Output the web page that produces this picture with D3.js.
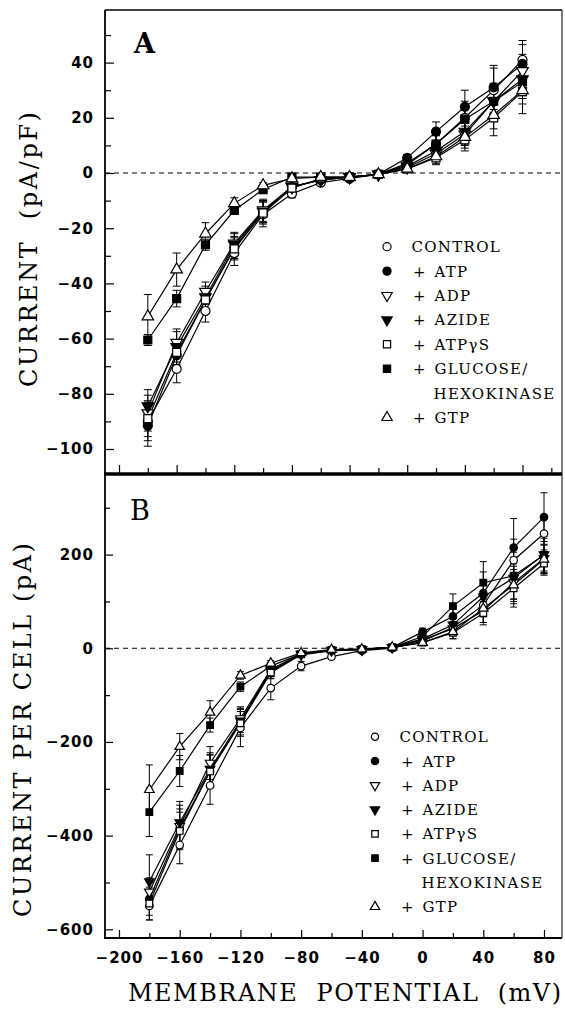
<!DOCTYPE html>
<html>
<head>
<meta charset="utf-8">
<script src="https://cdn.jsdelivr.net/npm/d3@7"></script>
<style>
  body { margin: 0; background: #fff; }
  svg { display: block; }
  .axis text { font-family: "DejaVu Sans", sans-serif; font-weight: bold; font-size: 15px; letter-spacing: 1px; fill: #000; }
  .axis line { stroke: #000; stroke-width: 1.2; }
  .title { font-family: "DejaVu Serif", serif; font-size: 24px; fill: #000; white-space: pre; }
  .legend text { font-family: "DejaVu Serif", serif; font-size: 15px; letter-spacing: 1.3px; fill: #000; }
</style>
</head>
<body>
<svg id="chart" width="565" height="1009"></svg>
<script>
// membrane potential (mV)
const voltages = [-180, -160, -140, -120, -100, -80, -60, -40, -20, 0, 20, 40, 60, 80];

// Panel A: current density (pA/pF)
const controlA = [-90, -71, -50, -29, -15, -7.5, -3.5, -2, -0.5, 3, 10.5, 20, 30, 41];
const atpA     = [-91.5, -66, -46, -27, -14, -5, -2.5, -1.5, -0.5, 5.5, 15, 24, 31, 39.5];
const adpA     = [-87, -61.5, -43, -25.5, -13.5, -5, -2.5, -1.5, -0.5, 2, 7, 14, 26, 37];
const azideA   = [-84.5, -63, -45, -26, -14, -5, -2.5, -1.5, -0.5, 2.5, 8, 15, 26, 34];
const atpgsA   = [-89, -65, -46, -27.5, -14.5, -5.5, -2, -1.5, -0.5, 1.5, 5.5, 12, 20, 29.5];
const glucoseA = [-60.5, -45.5, -26, -13.5, -6, -1.5, -1.5, -1.5, -0.5, 3.5, 10.5, 19.5, 26, 33];
const gtpA     = [-52, -35, -22, -11, -4.5, -2, -1.5, -1.5, -0.5, 1.5, 6, 13, 21, 30];

const semControlA = [7, 5, 4, 4.5, 4.5, 1.5, 0.8, 0.5, 0.4, 1, 3.5, 6, 8, 7];
const semAtpA     = [7.5, 5, 4, 4, 4, 1.2, 0.7, 0.5, 0.4, 1.2, 3.5, 6, 8, 7];
const semAdpA     = [6.5, 5, 3.5, 4, 4, 1.2, 0.7, 0.5, 0.4, 1, 2.5, 4, 6, 6];
const semAzideA   = [6, 5.5, 4, 4, 4, 1.2, 0.7, 0.5, 0.4, 1, 2.5, 4.5, 6.5, 6];
const semAtpgsA   = [6.5, 4.5, 3.5, 4, 4, 1.2, 0.7, 0.5, 0.4, 1, 2.5, 4, 6.5, 8];
const semGlucoseA = [2, 3, 2, 1.5, 1, 0.8, 0.5, 0.5, 0.4, 1, 3, 5, 6, 6];
const semGtpA     = [8, 6, 4, 2, 1, 0.8, 0.5, 0.5, 0.4, 1, 2.5, 4, 5, 5];

// Panel B: current per cell (pA)
const controlB = [-550, -420, -293, -170, -85, -38, -18, -5, 0, 15, 45, 92, 188, 245];
const atpB     = [-535, -385, -262, -158, -50, -12, -4, -2, 2, 35, 68, 118, 215, 280];
const adpB     = [-520, -380, -245, -150, -45, -12, -4, -3, 2, 18, 42, 80, 140, 192];
const azideB   = [-498, -372, -258, -155, -48, -14, -5, -3, 2, 20, 50, 110, 150, 200];
const atpgsB   = [-545, -390, -263, -160, -52, -13, -5, -3, 2, 12, 33, 75, 128, 181];
const glucoseB = [-350, -262, -164, -82, -38, -12, -4, -2, 2, 25, 90, 140, 155, 199];
const gtpB     = [-302, -210, -137, -58, -32, -10, -3, -2, 2, 12, 35, 85, 135, 190];

const semControlB = [30, 40, 40, 40, 25, 10, 5, 3, 2, 6, 12, 25, 45, 35];
const semAtpB     = [35, 42, 35, 30, 15, 5, 3, 2, 2, 8, 20, 45, 62, 52];
const semAdpB     = [30, 45, 35, 25, 12, 5, 3, 2, 2, 5, 12, 25, 40, 30];
const semAzideB   = [57, 45, 35, 25, 12, 5, 3, 2, 2, 5, 15, 35, 45, 35];
const semAtpgsB   = [35, 40, 35, 25, 12, 5, 3, 2, 2, 5, 12, 25, 40, 25];
const semGlucoseB = [52, 33, 15, 10, 8, 4, 3, 2, 2, 6, 26, 45, 50, 40];
const semGtpB     = [53, 28, 25, 8, 6, 4, 3, 2, 2, 5, 15, 30, 40, 30];

const seriesNames = ["CONTROL", "ATP", "ADP", "AZIDE", "ATPγS", "GLUCOSE/", "GTP"];

// ticks
const xTicksMajor = [-200, -160, -120, -80, -40, 0, 40, 80];
const xTicksMinor = [-180, -140, -100, -60, -20, 20, 60, 100];
const yTicksA = [-100, -80, -60, -40, -20, 0, 20, 40];
const yMinorA = [-90, -70, -50, -30, -10, 10, 30, 50];
const yTicksB = [-600, -400, -200, 0, 200];
const yMinorB = [-500, -300, -100, 100, 300];

const markerShape = ["circle", "circle", "down", "down", "square", "square", "up"];
const markerFilled = [false, true, false, true, false, true, false];

const svg = d3.select("#chart");

function symbolPath(shape, size) {
  const type = shape === "circle" ? d3.symbolCircle
    : shape === "square" ? d3.symbolSquare : d3.symbolTriangle;
  return d3.symbol().type(type).size(size)();
}

function drawMarker(g, shape, filled, x, y, size) {
  g.append("path")
    .attr("d", symbolPath(shape, shape === "up" || shape === "down" ? size * 0.9 : size))
    .attr("transform", `translate(${x},${y})` + (shape === "down" ? " rotate(180)" : ""))
    .attr("fill", filled ? "#000" : "#fff")
    .attr("stroke", "#000")
    .attr("stroke-width", 1.2);
}

function drawPanel(p) {
  const g = svg.append("g");
  const { x, y } = p;

  // zero line
  g.append("line")
    .attr("x1", p.left).attr("x2", p.right)
    .attr("y1", y(0)).attr("y2", y(0))
    .attr("stroke", "#000").attr("stroke-width", 1)
    .attr("stroke-dasharray", "5,4");

  // lines
  const line = d3.line().x((d, i) => x(voltages[i])).y((d) => y(d));
  p.series.forEach((s) => {
    g.append("path").datum(s.values)
      .attr("d", line)
      .attr("fill", "none")
      .attr("stroke", "#000")
      .attr("stroke-width", 1.2);
  });

  // error bars
  p.series.forEach((s) => {
    s.values.forEach((v, i) => {
      const cx = x(voltages[i]);
      const top = y(v + s.sem[i]);
      const bot = y(v - s.sem[i]);
      if (bot - top < 3) return;
      g.append("line").attr("x1", cx).attr("x2", cx).attr("y1", top).attr("y2", bot)
        .attr("stroke", "#000").attr("stroke-width", 1);
      [top, bot].forEach((yy) => {
        g.append("line")
          .attr("x1", cx - p.cap).attr("x2", cx + p.cap)
          .attr("y1", yy).attr("y2", yy)
          .attr("stroke", "#000").attr("stroke-width", 1);
      });
    });
  });

  // markers
  p.series.forEach((s, k) => {
    s.values.forEach((v, i) => {
      drawMarker(g, markerShape[k], markerFilled[k], x(voltages[i]), y(v), p.markerSize);
    });
  });

  // axes
  const left = g.append("g").attr("class", "axis")
    .attr("transform", `translate(${p.left},0)`)
    .call(d3.axisLeft(y).tickValues(p.yTicks).tickSize(-p.tickMajor).tickSizeOuter(0).tickPadding(11));
  left.select(".domain").remove();
  const leftMinor = g.append("g").attr("class", "axis")
    .attr("transform", `translate(${p.left},0)`)
    .call(d3.axisLeft(y).tickValues(p.yMinor).tickSize(-p.tickMinor).tickSizeOuter(0).tickFormat(""));
  leftMinor.select(".domain").remove();

  const bottom = g.append("g").attr("class", "axis")
    .attr("transform", `translate(0,${p.bottom})`)
    .call(d3.axisBottom(x).tickValues(xTicksMajor).tickSize(-p.tickMajor).tickSizeOuter(0)
      .tickPadding(14).tickFormat(p.xLabels ? d3.format("") : ""));
  bottom.select(".domain").remove();
  const bottomMinor = g.append("g").attr("class", "axis")
    .attr("transform", `translate(0,${p.bottom})`)
    .call(d3.axisBottom(x).tickValues(xTicksMinor.filter((t) => x(t) < p.right))
      .tickSize(-p.tickMinor).tickSizeOuter(0).tickFormat(""));
  bottomMinor.select(".domain").remove();

  // frame
  g.append("line").attr("x1", p.left).attr("x2", p.right).attr("y1", p.top).attr("y2", p.top)
    .attr("stroke", "#000").attr("stroke-width", p.topWidth);
  g.append("line").attr("x1", p.right).attr("x2", p.right).attr("y1", p.top).attr("y2", p.bottom)
    .attr("stroke", "#000").attr("stroke-width", 1);
  g.append("line").attr("x1", p.left).attr("x2", p.left).attr("y1", p.top).attr("y2", p.bottom)
    .attr("stroke", "#000").attr("stroke-width", 1.8);
  g.append("line").attr("x1", p.left - 1).attr("x2", p.right).attr("y1", p.bottom).attr("y2", p.bottom)
    .attr("stroke", "#000").attr("stroke-width", p.bottomWidth);

  // legend
  const lg = g.append("g").attr("class", "legend");
  seriesNames.forEach((name, k) => {
    const row = k < 6 ? k : 7;
    const cy = p.legendY + row * p.legendStep;
    drawMarker(lg, markerShape[k], markerFilled[k], p.legendX, cy, p.legendSize);
    if (k === 0) {
      lg.append("text").attr("x", p.legendX + 24.5).attr("y", cy + 5.5).text(name);
    } else {
      lg.append("text").attr("x", p.legendX + 26).attr("y", cy + 5.5).text("+");
      lg.append("text").attr("x", p.legendX + 47.5).attr("y", cy + 5.5).text(name);
    }
  });
  lg.append("text").attr("x", p.legendX + 46.5)
    .attr("y", p.legendY + 6 * p.legendStep + 5.5).text("HEXOKINASE");

  // panel letter
  g.append("text").attr("x", p.letterX).attr("y", p.letterY)
    .attr("font-family", "DejaVu Serif, serif").attr("font-size", 27)
    .attr("font-weight", p.letterBold ? "bold" : "normal")
    .text(p.letter);
}

drawPanel({
  x: d3.scaleLinear().domain([-200, 80]).range([119, 522.5]),
  y: d3.scaleLinear().domain([-100, 40]).range([449, 62.6]),
  left: 105, right: 562, top: 10, bottom: 474,
  topWidth: 1.3, bottomWidth: 2.8,
  yTicks: yTicksA, yMinor: yMinorA,
  tickMajor: 9, tickMinor: 6, cap: 4,
  markerSize: 64, xLabels: false,
  series: [
    { values: controlA, sem: semControlA },
    { values: atpA, sem: semAtpA },
    { values: adpA, sem: semAdpA },
    { values: azideA, sem: semAzideA },
    { values: atpgsA, sem: semAtpgsA },
    { values: glucoseA, sem: semGlucoseA },
    { values: gtpA, sem: semGtpA },
  ],
  legendX: 387, legendY: 246.7, legendStep: 24.4, legendSize: 52,
  letter: "A", letterX: 134, letterY: 53, letterBold: true,
});

drawPanel({
  x: d3.scaleLinear().domain([-200, 80]).range([119, 544]),
  y: d3.scaleLinear().domain([-600, 200]).range([929.3, 554.6]),
  left: 105, right: 562, top: 474, bottom: 938,
  topWidth: 2.8, bottomWidth: 2,
  yTicks: yTicksB, yMinor: yMinorB,
  tickMajor: 8, tickMinor: 5, cap: 3.5,
  markerSize: 44, xLabels: true,
  series: [
    { values: controlB, sem: semControlB },
    { values: atpB, sem: semAtpB },
    { values: adpB, sem: semAdpB },
    { values: azideB, sem: semAzideB },
    { values: atpgsB, sem: semAtpgsB },
    { values: glucoseB, sem: semGlucoseB },
    { values: gtpB, sem: semGtpB },
  ],
  legendX: 375, legendY: 736.7, legendStep: 24.3, legendSize: 42,
  letter: "B", letterX: 130, letterY: 520, letterBold: false,
});

// axis titles
svg.append("text").attr("class", "title")
  .attr("transform", "translate(37,249.5) rotate(-90)")
  .attr("text-anchor", "middle")
  .attr("textLength", 275).attr("lengthAdjust", "spacing")
  .text("CURRENT  (pA/pF)");

svg.append("text").attr("class", "title")
  .attr("transform", "translate(31,730) rotate(-90)")
  .attr("text-anchor", "middle")
  .attr("textLength", 374).attr("lengthAdjust", "spacing")
  .text("CURRENT PER CELL (pA)");

svg.append("text").attr("class", "title")
  .attr("x", 128).attr("y", 1001)
  .attr("textLength", 433).attr("lengthAdjust", "spacing")
  .text("MEMBRANE  POTENTIAL  (mV)");
</script>
</body>
</html>
